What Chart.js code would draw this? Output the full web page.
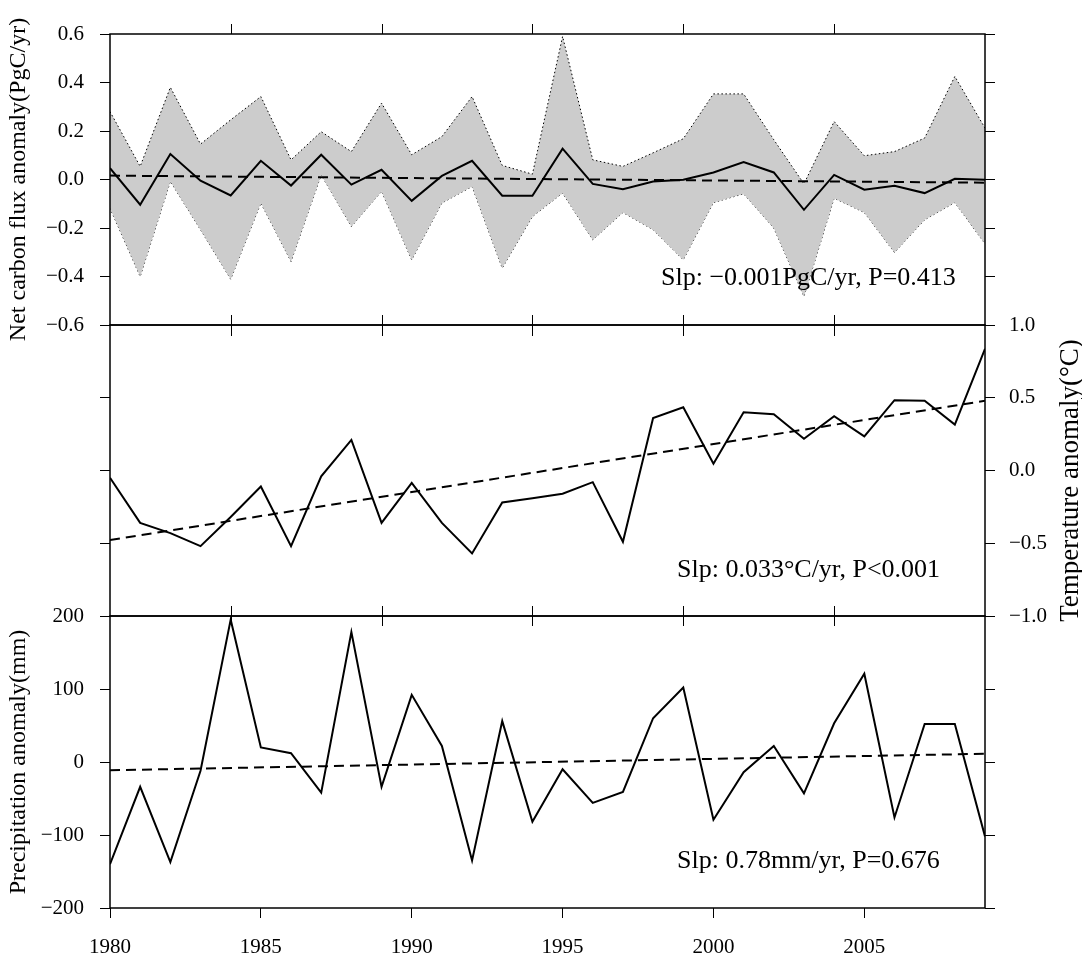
<!DOCTYPE html>
<html>
<head>
<meta charset="utf-8">
<script src="https://cdn.jsdelivr.net/npm/chart.js@4.4.1/dist/chart.umd.min.js"></script>
<style>
	html, body { margin: 0; padding: 0; background: #fff; }
	#wrap { position: relative; width: 1082px; height: 958px; }
	#wrap canvas { position: absolute; left: 0; top: 0; }
</style>
</head>
<body>
<div id="wrap">
	<canvas id="fluxChart" width="1082" height="958"></canvas>
	<canvas id="tempChart" width="1082" height="958"></canvas>
	<canvas id="precChart" width="1082" height="958"></canvas>
</div>
<script>
const years = [1980, 1981, 1982, 1983, 1984, 1985, 1986, 1987, 1988, 1989,
	1990, 1991, 1992, 1993, 1994, 1995, 1996, 1997, 1998, 1999,
	2000, 2001, 2002, 2003, 2004, 2005, 2006, 2007, 2008, 2009];
const xLabelYears = [1980, 1985, 1990, 1995, 2000, 2005];
const innerTickYears = [1984, 1989, 1994, 1999, 2004];

// net carbon flux anomaly (PgC/yr): mean and spread
const fluxMean = [0.047, -0.104, 0.105, -0.005, -0.066, 0.077, -0.025, 0.102, -0.021, 0.040,
	-0.088, 0.015, 0.077, -0.067, -0.067, 0.127, -0.018, -0.040, -0.008, -0.001,
	0.029, 0.072, 0.029, -0.125, 0.019, -0.042, -0.026, -0.056, 0.003, -0.001];
const fluxUpper = [0.28, 0.054, 0.38, 0.146, 0.246, 0.342, 0.081, 0.197, 0.115, 0.315,
	0.102, 0.177, 0.342, 0.058, 0.022, 0.59, 0.081, 0.054, 0.11, 0.168,
	0.353, 0.353, 0.164, -0.018, 0.239, 0.098, 0.115, 0.171, 0.425, 0.212];
const fluxLower = [-0.118, -0.40, -0.008, -0.207, -0.411, -0.097, -0.338, 0.019, -0.194, -0.049,
	-0.331, -0.097, -0.029, -0.365, -0.153, -0.056, -0.249, -0.136, -0.207, -0.331,
	-0.095, -0.059, -0.20, -0.482, -0.077, -0.136, -0.301, -0.166, -0.095, -0.265];
const fluxTrend = [0.016, -0.013];

// temperature anomaly (°C)
const tempMean = [-0.05, -0.36, -0.43, -0.52, -0.32, -0.11, -0.52, -0.04, 0.21, -0.36,
	-0.085, -0.36, -0.57, -0.22, -0.19, -0.16, -0.08, -0.49, 0.36, 0.435,
	0.046, 0.40, 0.387, 0.218, 0.373, 0.234, 0.483, 0.479, 0.316, 0.836];
const tempTrend = [-0.478, 0.479];

// precipitation anomaly (mm)
const precMean = [-140, -34, -137, -12, 195, 20, 12, -42, 178, -34,
	92, 22, -135, 56, -82, -10, -56, -41, 60, 102,
	-79, -14, 22, -43, 53, 121, -76, 52, 52, -102];
const precTrend = [-11.3, 11.3];

const serif = "'Liberation Serif', 'DejaVu Serif', serif";
Chart.defaults.font.family = serif;
Chart.defaults.color = "#000";

function points(values) {
	return years.map((yr, i) => ({ x: yr, y: values[i] }));
}

function trendPoints(ends) {
	return [{ x: years[0], y: ends[0] }, { x: years[years.length - 1], y: ends[1] }];
}

function fmt(v, digits) {
	if (Math.abs(v) < 1e-9) v = 0;
	return v.toFixed(digits).replace("-", "\u2212");
}

function yAxis(pos, min, max, step, showLabels, digits, title) {
	return {
		position: pos,
		min: min,
		max: max,
		afterFit: s => { s.width = pos === "left" ? 110 : 97; },
		border: { display: false },
		grid: { drawOnChartArea: false, drawTicks: true, tickLength: 10, color: "#000", lineWidth: 1 },
		ticks: {
			display: showLabels,
			stepSize: step,
			padding: pos === "left" ? 16 : 14,
			font: { size: 21 },
			color: "#000",
			callback: v => fmt(v, digits)
		},
		title: title
			? { display: true, text: title, font: { size: 24 }, color: "#000", padding: { top: 4, bottom: 0 } }
			: { display: false }
	};
}

function xAxis(show) {
	return {
		type: "linear",
		min: 1980,
		max: 2009,
		display: show,
		afterBuildTicks: s => { s.ticks = xLabelYears.map(v => ({ value: v })); },
		afterFit: s => { s.height = show ? 50 : 0; },
		border: { display: false },
		grid: { drawOnChartArea: false, tickLength: 10, color: "#000", lineWidth: 1 },
		ticks: { padding: 17, font: { size: 21 }, color: "#000", maxRotation: 0, callback: v => String(v) }
	};
}

/* frame, inner year ticks, slope notes and right-hand title */
const panelFrame = {
	id: "panelFrame",
	afterDraw(chart, args, opts) {
		const ctx = chart.ctx;
		const a = chart.chartArea;
		const x = chart.scales.x;
		ctx.save();
		ctx.strokeStyle = "#000";
		ctx.lineWidth = 1.5;
		ctx.strokeRect(a.left, a.top, a.right - a.left, a.bottom - a.top);

		ctx.lineWidth = 1;
		ctx.beginPath();
		innerTickYears.forEach(yr => {
			const px = Math.round(x.getPixelForValue(yr)) + 0.5;
			(opts.edgeTicks || []).forEach(t => {
				const y0 = t.edge === "top" ? a.top : a.bottom;
				ctx.moveTo(px, y0 + t.from);
				ctx.lineTo(px, y0 + t.to);
			});
		});
		ctx.stroke();

		ctx.fillStyle = "#000";
		if (opts.note) {
			ctx.font = "26px " + serif;
			ctx.textAlign = "left";
			ctx.textBaseline = "alphabetic";
			ctx.fillText(opts.note.text, opts.note.x, opts.note.y);
		}
		if (opts.sideTitle) {
			ctx.font = "27px " + serif;
			ctx.textAlign = "center";
			ctx.textBaseline = "middle";
			ctx.translate(opts.sideTitle.x, (a.top + a.bottom) / 2 + 10);
			ctx.rotate(-Math.PI / 2);
			ctx.fillText(opts.sideTitle.text, 0, 0);
		}
		ctx.restore();
	}
};

function baseOptions(padding, scales, frame) {
	return {
		responsive: false,
		animation: false,
		layout: { padding: padding },
		elements: { point: { radius: 0 }, line: { tension: 0 } },
		plugins: {
			legend: { display: false },
			tooltip: { enabled: false },
			panelFrame: frame
		},
		scales: scales
	};
}

const solid = { borderColor: "#000", borderWidth: 2, fill: false };
const dashed = { borderColor: "#000", borderWidth: 2, borderDash: [10, 6], fill: false };

// top panel: carbon flux with shaded spread
new Chart(document.getElementById("fluxChart"), {
	type: "line",
	data: {
		datasets: [
			Object.assign({ data: points(fluxMean) }, solid),
			Object.assign({ data: trendPoints(fluxTrend) }, dashed),
			{ data: points(fluxUpper), borderColor: "#000", borderWidth: 1, borderDash: [1.5, 2.5],
				fill: "+1", backgroundColor: "#cccccc" },
			{ data: points(fluxLower), borderColor: "#000", borderWidth: 1, borderDash: [1.5, 2.5], fill: false }
		]
	},
	options: baseOptions(
		{ top: 34, bottom: 633, left: 0, right: 0 },
		{
			x: xAxis(false),
			y: yAxis("left", -0.6, 0.6, 0.2, true, 1, "Net carbon flux anomaly(PgC/yr)"),
			yr: yAxis("right", -0.6, 0.6, 0.2, false, 1, null)
		},
		{
			edgeTicks: [{ edge: "top", from: -10, to: 0 }, { edge: "bottom", from: -10, to: 0 }],
			note: { text: "Slp: \u22120.001PgC/yr, P=0.413", x: 661, y: 285 }
		}
	),
	plugins: [panelFrame]
});

// middle panel: temperature
new Chart(document.getElementById("tempChart"), {
	type: "line",
	data: {
		datasets: [
			Object.assign({ data: points(tempMean) }, solid),
			Object.assign({ data: trendPoints(tempTrend) }, dashed)
		]
	},
	options: baseOptions(
		{ top: 325, bottom: 342, left: 0, right: 0 },
		{
			x: xAxis(false),
			y: yAxis("left", -1, 1, 0.5, false, 1, null),
			yr: yAxis("right", -1, 1, 0.5, true, 1, null)
		},
		{
			edgeTicks: [{ edge: "top", from: 0, to: 11 }, { edge: "bottom", from: -10, to: 0 }],
			note: { text: "Slp: 0.033\u00b0C/yr, P<0.001", x: 677, y: 577 },
			sideTitle: { text: "Temperature anomaly(\u00b0C)", x: 1071 }
		}
	),
	plugins: [panelFrame]
});

// bottom panel: precipitation
new Chart(document.getElementById("precChart"), {
	type: "line",
	data: {
		datasets: [
			Object.assign({ data: points(precMean) }, solid),
			Object.assign({ data: trendPoints(precTrend) }, dashed)
		]
	},
	options: baseOptions(
		{ top: 616, bottom: 0, left: 0, right: 0 },
		{
			x: xAxis(true),
			y: yAxis("left", -200, 200, 100, true, 0, "Precipitation anomaly(mm)"),
			yr: yAxis("right", -200, 200, 100, false, 0, null)
		},
		{
			edgeTicks: [{ edge: "top", from: 0, to: 10 }],
			note: { text: "Slp: 0.78mm/yr, P=0.676", x: 677, y: 868 }
		}
	),
	plugins: [panelFrame]
});
</script>
</body>
</html>
